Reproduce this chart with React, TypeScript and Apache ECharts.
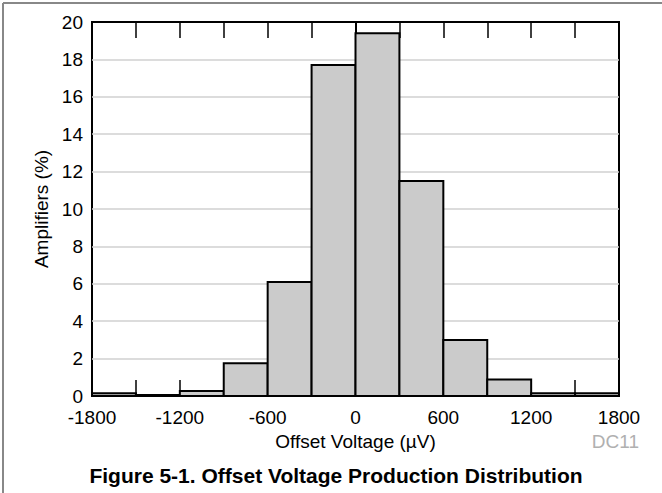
import React, { useEffect, useRef } from "react";
import * as echarts from "echarts";

const binStarts = [-1800, -1500, -1200, -900, -600, -300, 0, 300, 600, 900, 1200, 1500];
const binEnds = [-1500, -1200, -900, -600, -300, 0, 300, 600, 900, 1200, 1500, 1800];
const amplifierPct = [0.15, 0.06, 0.27, 1.75, 6.1, 17.7, 19.4, 11.5, 3.0, 0.88, 0.15, 0.15];

const xMin = -1800;
const xMax = 1800;
const xInterval = 600;
const yMin = 0;
const yMax = 20;
const yInterval = 2;

const FONT = "Liberation Sans, Arial, sans-serif";

export default function App() {
  const ref = useRef<HTMLDivElement>(null);
  useEffect(() => {
    if (!ref.current) return;
    const chart = echarts.init(ref.current, null, { renderer: "svg" });
    const data = binStarts.map((s, i) => [s, binEnds[i], amplifierPct[i]]);
    const tickCommon = {
      axisTick: { show: true, inside: true, length: 16, lineStyle: { color: "#000", width: 1.5 } },
      minorTick: { show: true, splitNumber: 2, length: 16, lineStyle: { color: "#000", width: 1.5 } },
    };
    chart.setOption({
      animation: false,
      backgroundColor: "#fff",
      textStyle: { fontFamily: FONT },
      grid: {
        left: 92,
        right: 43,
        top: 22,
        bottom: 97,
        show: true,
        borderColor: "#000",
        borderWidth: 2,
        backgroundColor: "transparent",
      },
      xAxis: [
        {
          type: "value",
          position: "bottom",
          min: xMin,
          max: xMax,
          interval: xInterval,
          axisLine: { show: true, lineStyle: { color: "#000", width: 2 } },
          ...tickCommon,
          axisLabel: {
            color: "#000",
            fontSize: 19,
            margin: 12,
            fontFamily: FONT,
            formatter: (v: number) => String(v),
          },
          splitLine: { show: false },
          name: "Offset Voltage (\u00b5V)",
          nameLocation: "middle",
          nameGap: 36,
          nameTextStyle: { color: "#000", fontSize: 19, fontFamily: FONT },
        },
        {
          type: "value",
          position: "top",
          min: xMin,
          max: xMax,
          interval: xInterval,
          axisLine: { show: true, lineStyle: { color: "#000", width: 2 } },
          ...tickCommon,
          axisLabel: { show: false },
          splitLine: { show: false },
        },
      ],
      yAxis: {
        type: "value",
        min: yMin,
        max: yMax,
        interval: yInterval,
        axisLine: { show: true, lineStyle: { color: "#000", width: 2 } },
        axisTick: { show: false },
        axisLabel: { color: "#000", fontSize: 19, margin: 9, fontFamily: FONT },
        splitLine: { show: true, lineStyle: { color: "#d0d0d0", width: 1.5 } },
        name: "Amplifiers (%)",
        nameLocation: "middle",
        nameGap: 40,
        nameTextStyle: { color: "#000", fontSize: 19, fontFamily: FONT },
      },
      series: [
        {
          type: "custom",
          xAxisIndex: 0,
          yAxisIndex: 0,
          data,
          encode: { x: [0, 1], y: 2 },
          renderItem: (params: any, api: any) => {
            const p0 = api.coord([api.value(0), api.value(2)]);
            const p1 = api.coord([api.value(1), 0]);
            return {
              type: "rect",
              shape: { x: p0[0], y: p0[1], width: p1[0] - p0[0], height: p1[1] - p0[1] },
              style: { fill: "#cbcbcb", stroke: "#000", lineWidth: 2 },
            };
          },
        },
      ],
      graphic: [
        {
          type: "line",
          shape: { x1: 3, y1: 3, x2: 662, y2: 3 },
          style: { stroke: "#888", lineWidth: 2 },
        },
        {
          type: "line",
          shape: { x1: 3, y1: 3, x2: 3, y2: 493 },
          style: { stroke: "#888", lineWidth: 2 },
        },
        {
          type: "text",
          right: 23,
          top: 432,
          style: { text: "DC11", fill: "#b0b0b0", fontSize: 19, fontFamily: FONT },
        },
        {
          type: "text",
          x: 336,
          y: 475,
          style: {
            text: "Figure 5-1. Offset Voltage Production Distribution",
            fill: "#000",
            fontSize: 21,
            fontWeight: "bold",
            fontFamily: FONT,
            align: "center",
            verticalAlign: "middle",
          },
        },
      ],
    });
    return () => chart.dispose();
  }, []);
  return (
    <div
      ref={ref}
      style={{ position: "fixed", left: 0, top: 0, width: 662, height: 493 }}
    />
  );
}
